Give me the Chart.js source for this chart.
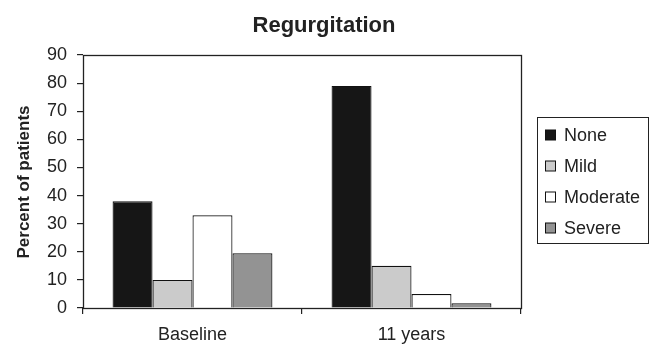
<!DOCTYPE html>
<html>
<head>
<meta charset="utf-8">
<script src="https://cdn.jsdelivr.net/npm/chart.js@4/dist/chart.umd.min.js"></script>
<style>
  html, body { margin: 0; padding: 0; background: #fff; }
  #wrap { width: 650px; height: 345px; }
</style>
</head>
<body>
<div id="wrap"><canvas id="chart" width="650" height="345"></canvas></div>
<script>
// Regurgitation severity, percent of patients
const categories = ['Baseline', '11 years'];
const seriesNames = ['None', 'Mild', 'Moderate', 'Severe'];
const noneValues = [38, 79];
const mildValues = [10, 15];
const moderateValues = [33, 5];
const severeValues = [19.5, 1.7];
const yTickValues = [0, 10, 20, 30, 40, 50, 60, 70, 80, 90];

const chartTitle = 'Regurgitation';
const yAxisTitle = 'Percent of patients';

const fills = ['#161616', '#cbcbcb', '#ffffff', '#939393'];
const seriesValues = [noneValues, mildValues, moderateValues, severeValues];
const FONT = '"Liberation Sans", Arial, sans-serif';
const INK = '#222';

// Frame, title, rotated axis title and boxed legend
const decorations = {
  id: 'decorations',
  afterDraw(chart) {
    const { ctx, chartArea: a } = chart;
    ctx.save();
    ctx.strokeStyle = INK;
    ctx.lineWidth = 1.3;
    ctx.strokeRect(Math.round(a.left) + 0.5, Math.round(a.top) + 0.5,
                   Math.round(a.right - a.left), Math.round(a.bottom - a.top));

    ctx.fillStyle = INK;
    ctx.font = 'bold 22px ' + FONT;
    ctx.textAlign = 'center';
    ctx.textBaseline = 'alphabetic';
    ctx.fillText(chartTitle, 324, 32);

    ctx.save();
    ctx.translate(24, 182);
    ctx.rotate(-Math.PI / 2);
    ctx.font = 'bold 17px ' + FONT;
    ctx.textBaseline = 'middle';
    ctx.fillText(yAxisTitle, 0, 0);
    ctx.restore();

    // legend
    const lx = 537.5, ly = 117.5, lw = 111, lh = 126;
    ctx.lineWidth = 1;
    ctx.strokeStyle = INK;
    ctx.strokeRect(lx, ly, lw, lh);
    ctx.font = '18px ' + FONT;
    ctx.textAlign = 'left';
    ctx.textBaseline = 'middle';
    chart.data.datasets.forEach((ds, i) => {
      const cy = 135 + i * 31;
      ctx.fillStyle = ds.backgroundColor;
      ctx.fillRect(545.5, cy - 5, 10, 10);
      ctx.strokeStyle = '#111';
      ctx.strokeRect(545.5, cy - 5, 10, 10);
      ctx.fillStyle = INK;
      ctx.fillText(ds.label, 564, cy + 1);
    });
    ctx.restore();
  }
};

new Chart(document.getElementById('chart'), {
  type: 'bar',
  data: {
    labels: categories,
    datasets: seriesNames.map((name, i) => ({
      label: name,
      data: seriesValues[i],
      backgroundColor: fills[i],
      borderColor: '#111',
      borderWidth: 1.2,
      categoryPercentage: 0.73,
      barPercentage: 1.0
    }))
  },
  options: {
    responsive: false,
    animation: false,
    layout: { padding: { top: 55, right: 129, bottom: 0, left: 0 } },
    plugins: {
      legend: { display: false },
      title: { display: false },
      tooltip: { enabled: false }
    },
    scales: {
      x: {
        type: 'category',
        offset: true,
        border: { display: false },
        grid: { offset: true, drawOnChartArea: false, drawTicks: true, tickLength: 6, color: INK, lineWidth: 1.2 },
        ticks: { color: INK, font: { family: FONT, size: 18 }, padding: 10, maxRotation: 0 },
        afterFit(scale) { scale.height = 37; }
      },
      y: {
        min: 0,
        max: 90,
        border: { display: false },
        grid: { drawOnChartArea: false, drawTicks: true, tickLength: 6, color: INK, lineWidth: 1.2 },
        afterBuildTicks(scale) { scale.ticks = yTickValues.map(v => ({ value: v })); },
        ticks: { color: INK, font: { family: FONT, size: 18 }, padding: 10 },
        afterFit(scale) { scale.width = 83; }
      }
    }
  },
  plugins: [decorations]
});
</script>
</body>
</html>
